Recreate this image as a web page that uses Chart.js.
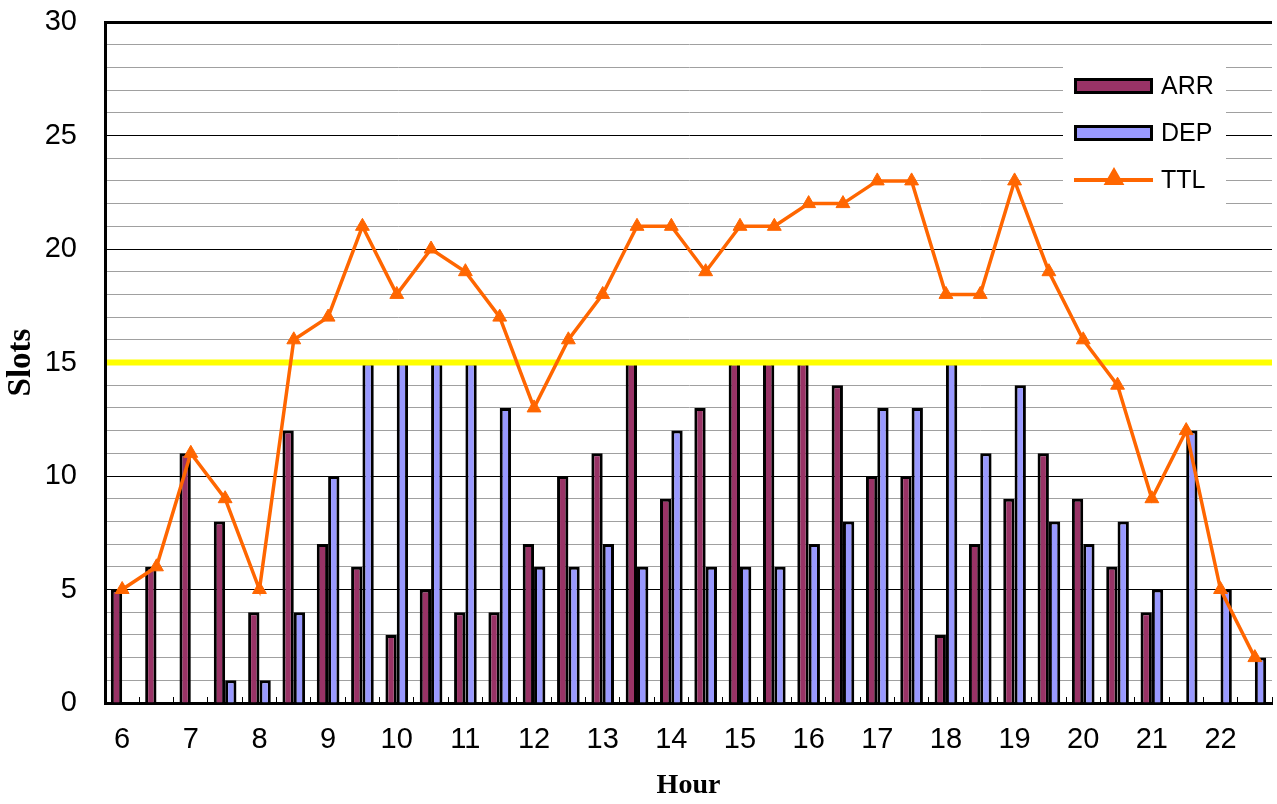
<!DOCTYPE html>
<html>
<head>
<meta charset="utf-8">
<script src="https://cdn.jsdelivr.net/npm/chart.js@4.4.1/dist/chart.umd.min.js"></script>
<style>
    html, body { margin: 0; padding: 0; background: #fff; overflow: hidden; }
    #chartBox { width: 1281px; height: 804px; }
</style>
</head>
<body>
<div id="chartBox"><canvas id="slotsChart"></canvas></div>
<script>
// half-hour slots, 6:00 .. 22:30
const slots = ['6:00', '6:30', '7:00', '7:30', '8:00', '8:30', '9:00', '9:30', '10:00', '10:30',
    '11:00', '11:30', '12:00', '12:30', '13:00', '13:30', '14:00', '14:30', '15:00', '15:30',
    '16:00', '16:30', '17:00', '17:30', '18:00', '18:30', '19:00', '19:30', '20:00', '20:30',
    '21:00', '21:30', '22:00', '22:30'];
const hourLabels = ['6', '7', '8', '9', '10', '11', '12', '13', '14', '15', '16', '17', '18', '19', '20', '21', '22'];

const arr = [5, 6, 11, 8, 4, 12, 7, 6, 3, 5, 4, 4, 7, 10, 11, 15, 9, 13, 15, 15, 15, 14, 10, 10, 3, 7, 9, 11, 9, 6, 4, 0, 0, 0];
const dep = [0, 0, 0, 1, 1, 4, 10, 15, 15, 15, 15, 13, 6, 6, 7, 6, 12, 6, 6, 6, 7, 8, 13, 13, 15, 11, 14, 8, 7, 8, 5, 12, 5, 2];
const ttl = [5, 6, 11, 9, 5, 16, 17, 21, 18, 20, 19, 17, 13, 16, 18, 21, 21, 19, 21, 21, 22, 22, 23, 23, 18, 18, 23, 19, 16, 14, 9, 12, 5, 2];

const slotCap = 15;

Chart.defaults.font.family = '"Liberation Sans", Arial, sans-serif';
Chart.defaults.color = '#000';

// yellow capacity line, under the TTL line but over the bars
const capLine = {
    id: 'capLine',
    beforeDatasetDraw(chart, args) {
        if (args.meta.type !== 'line') return;
        const { ctx, chartArea } = chart;
        const y = chart.scales.y.getPixelForValue(slotCap);
        ctx.save();
        ctx.strokeStyle = '#FFFF00';
        ctx.lineWidth = 6;
        ctx.beginPath();
        ctx.moveTo(chartArea.left + 2, y);
        ctx.lineTo(chartArea.right, y);
        ctx.stroke();
        ctx.restore();
    }
};

// legend box in the upper right corner of the plot
const boxLegend = {
    id: 'boxLegend',
    afterDatasetsDraw(chart) {
        const { ctx, chartArea } = chart;
        const left = chartArea.right - 209;
        const top = chartArea.top + 35;
        ctx.save();
        ctx.fillStyle = '#fff';
        ctx.fillRect(left, top, 163, 150);
        ctx.font = '25px "Liberation Sans"';
        ctx.textBaseline = 'middle';
        chart.data.datasets.forEach((ds, i) => {
            const x = left + 11;
            const y = top + 29 + i * 47;
            if (ds.type === 'line') {
                ctx.strokeStyle = ds.borderColor;
                ctx.lineWidth = 4;
                ctx.beginPath();
                ctx.moveTo(x, y);
                ctx.lineTo(x + 79, y);
                ctx.stroke();
                ctx.fillStyle = ds.borderColor;
                Chart.helpers.drawPoint(ctx, { pointStyle: 'triangle', radius: 8, borderWidth: 1 }, x + 40, y - 1);
            } else {
                ctx.fillStyle = '#000';
                ctx.fillRect(x, y - 8, 79, 16);
                ctx.fillStyle = ds.backgroundColor;
                ctx.fillRect(x + 3, y - 5, 73, 10);
            }
            ctx.fillStyle = '#000';
            ctx.fillText(ds.label, x + 87, y + 1);
        });
        ctx.restore();
    }
};

new Chart(document.getElementById('slotsChart'), {
    data: {
        labels: slots,
        datasets: [
            {
                type: 'bar',
                label: 'ARR',
                data: arr,
                backgroundColor: '#993366',
                borderColor: '#000',
                borderWidth: 3,
                categoryPercentage: 0.66,
                barPercentage: 1.0,
                order: 1
            },
            {
                type: 'bar',
                label: 'DEP',
                data: dep,
                backgroundColor: '#9999FF',
                borderColor: '#000',
                borderWidth: 3,
                categoryPercentage: 0.66,
                barPercentage: 1.0,
                order: 1
            },
            {
                type: 'line',
                label: 'TTL',
                data: ttl,
                borderColor: '#FF6600',
                backgroundColor: '#FF6600',
                borderWidth: 3.5,
                pointStyle: 'triangle',
                pointRadius: 8,
                pointBorderWidth: 1,
                pointBackgroundColor: '#FF6600',
                pointBorderColor: '#FF6600',
                tension: 0,
                order: 0
            }
        ]
    },
    options: {
        responsive: true,
        maintainAspectRatio: false,
        animation: false,
        layout: {
            padding: 0
        },
        plugins: {
            legend: { display: false },
            tooltip: { enabled: false }
        },
        scales: {
            x: {
                afterFit(scale) { scale.height = 101; },
                grid: {
                    offset: true,
                    drawOnChartArea: false,
                    tickLength: -6,
                    color: '#000',
                    lineWidth: 1
                },
                border: { color: '#000', width: 3 },
                ticks: {
                    autoSkip: false,
                    maxRotation: 0,
                    padding: 26,
                    font: { size: 29 },
                    color: '#000',
                    callback: (v, i) => i % 2 === 0 ? hourLabels[i / 2] : ''
                },
                title: {
                    display: true,
                    text: 'Hour',
                    color: '#000',
                    font: { family: '"Liberation Serif", "Times New Roman", serif', size: 28, weight: 'bold' },
                    padding: { top: 0, bottom: 1 }
                }
            },
            y: {
                min: 0,
                max: 30,
                afterFit(scale) {
                    scale.width = 105;
                    scale.paddingTop = 22;
                    scale.paddingBottom = 0;
                },
                grid: {
                    drawTicks: false,
                    color: ctx => ctx.tick.value % 5 === 0 ? '#000' : '#a0a0a0',
                    lineWidth: ctx => ctx.tick.value === 30 ? 3 : 1
                },
                border: { color: '#000', width: 3 },
                ticks: {
                    stepSize: 1,
                    autoSkip: false,
                    padding: 28,
                    font: { size: 29 },
                    color: '#000',
                    callback: v => v % 5 === 0 ? v : ''
                },
                title: {
                    display: true,
                    text: 'Slots',
                    color: '#000',
                    font: { family: '"Liberation Serif", "Times New Roman", serif', size: 33, weight: 'bold' },
                    padding: { top: 2, bottom: 0 }
                }
            }
        }
    },
    plugins: [capLine, boxLegend]
});
</script>
</body>
</html>
